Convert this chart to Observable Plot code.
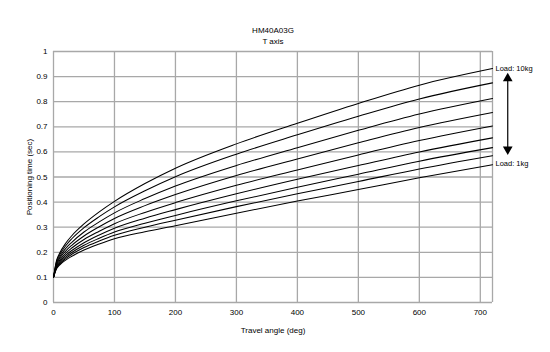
<!DOCTYPE html>
<html>
<head>
<meta charset="utf-8">
<script src="https://cdn.jsdelivr.net/npm/d3@7"></script>
<script src="https://cdn.jsdelivr.net/npm/@observablehq/plot@0.6"></script>
<style>
  html, body { margin: 0; padding: 0; background: #fff; }
</style>
</head>
<body>
<div id="chart"></div>
<script>
// Travel angle (deg) sample points
const angles = [0, 5, 10, 20, 30, 50, 75, 100, 150, 200, 300, 400, 500, 600, 720];
// Positioning time (sec), bottom curve (Load 1kg) to top curve (Load 10kg)
const curve1 = [0.1, 0.134, 0.149, 0.169, 0.184, 0.209, 0.233, 0.254, 0.282, 0.306, 0.356, 0.404, 0.450, 0.497, 0.549];
const curve2 = [0.1, 0.137, 0.153, 0.175, 0.192, 0.219, 0.245, 0.268, 0.300, 0.328, 0.382, 0.433, 0.482, 0.532, 0.585];
const curve3 = [0.1, 0.140, 0.157, 0.181, 0.199, 0.228, 0.256, 0.281, 0.316, 0.347, 0.405, 0.459, 0.511, 0.563, 0.617];
const curve4 = [0.1, 0.144, 0.162, 0.188, 0.207, 0.238, 0.269, 0.296, 0.336, 0.370, 0.433, 0.491, 0.546, 0.600, 0.656];
const curve5 = [0.1, 0.148, 0.168, 0.196, 0.217, 0.251, 0.284, 0.314, 0.359, 0.398, 0.467, 0.528, 0.588, 0.645, 0.703];
const curve6 = [0.1, 0.152, 0.175, 0.205, 0.228, 0.265, 0.302, 0.335, 0.386, 0.430, 0.506, 0.572, 0.636, 0.697, 0.757];
const curve7 = [0.1, 0.157, 0.181, 0.215, 0.240, 0.281, 0.321, 0.357, 0.414, 0.464, 0.546, 0.617, 0.686, 0.751, 0.813];
const curve8 = [0.1, 0.163, 0.189, 0.226, 0.254, 0.298, 0.342, 0.381, 0.445, 0.501, 0.591, 0.668, 0.742, 0.811, 0.875];
const curve9 = [0.1, 0.168, 0.196, 0.236, 0.266, 0.313, 0.361, 0.403, 0.474, 0.535, 0.632, 0.714, 0.793, 0.866, 0.932];
const curves = [curve1, curve2, curve3, curve4, curve5, curve6, curve7, curve8, curve9];

const xTicks = [0, 100, 200, 300, 400, 500, 600, 700];
const yTicks = [0, 0.1, 0.2, 0.3, 0.4, 0.5, 0.6, 0.7, 0.8, 0.9, 1];

const titleText = "HM40A03G";
const subtitleText = "T axis";
const loadLabels = [
  {x: 720, y: 0.932, text: "Load: 10kg"},
  {x: 720, y: 0.553, text: "Load: 1kg"}
];
// Double-headed arrow (data coordinates)
const arrowX = 745;
const arrowTop = 0.905;
const arrowBottom = 0.598;

const data = [];
curves.forEach((c, i) => c.forEach((v, j) => data.push({angle: angles[j], time: v, series: i})));

const gridColor = "#a8a8a8";

const chart = Plot.plot({
  width: 550,
  height: 352,
  marginLeft: 53,
  marginRight: 58,
  marginTop: 51,
  marginBottom: 50,
  style: {fontFamily: "'Liberation Sans', Arial, sans-serif", fontSize: "8px", color: "#000", background: "#fff", overflow: "visible"},
  x: {domain: [0, 720], ticks: xTicks, tickSize: 0, tickPadding: 7, label: "Travel angle (deg)", labelAnchor: "center", labelOffset: 30, labelArrow: "none"},
  y: {domain: [0, 1], ticks: yTicks, tickSize: 0, tickPadding: 6, tickFormat: d => String(+d.toFixed(1)), label: "Positioning time (sec)", labelAnchor: "center", labelOffset: 27, labelArrow: "none"},
  marks: [
    Plot.gridX(xTicks, {stroke: gridColor, strokeOpacity: 1, strokeWidth: 1.3}),
    Plot.gridY(yTicks, {stroke: gridColor, strokeOpacity: 1, strokeWidth: 1.3}),
    Plot.ruleX([720], {stroke: gridColor, strokeWidth: 1.3}),
    Plot.line(data, {x: "angle", y: "time", z: "series", stroke: "#000", strokeWidth: 1.05, curve: "monotone-x"}),
    Plot.text(loadLabels, {x: "x", y: "y", text: "text", textAnchor: "start", dx: 3, fontSize: 7.5, fill: "#000", clip: false}),
    Plot.ruleX([arrowX], {y1: arrowBottom + 0.02, y2: arrowTop - 0.02, stroke: "#000", strokeWidth: 1.2, clip: false}),
    Plot.dot([{x: arrowX, y: arrowTop}], {x: "x", y: "y", symbol: "triangle", r: 3.6, fill: "#000", stroke: "none", dy: 3}),
    Plot.dot([{x: arrowX, y: arrowBottom}], {x: "x", y: "y", symbol: "triangle", rotate: 180, r: 3.6, fill: "#000", stroke: "none", dy: -3}),
    Plot.text([titleText], {frameAnchor: "top", dy: -24, fontSize: 8, fill: "#000"}),
    Plot.text([subtitleText], {frameAnchor: "top", dy: -13.5, fontSize: 8, fill: "#000"})
  ]
});
document.getElementById("chart").appendChild(chart);
</script>
</body>
</html>
